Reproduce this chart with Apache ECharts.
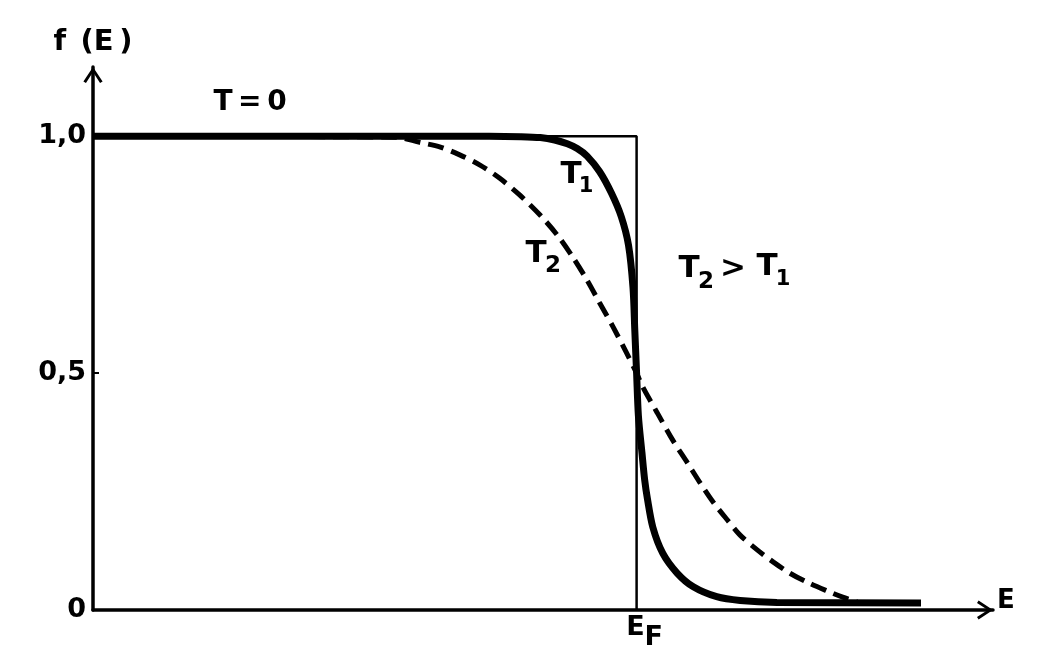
<!DOCTYPE html>
<html><head><meta charset="utf-8">
<script src="https://cdn.jsdelivr.net/npm/echarts@6/dist/echarts.min.js"></script>
<style>html,body{margin:0;padding:0;background:#fff}#c{width:1044px;height:660px}</style>
</head><body><div id="c"></div>
<script>
// ---- data (E in arbitrary units, f(E) occupation probability) ----
const EF = 60.4;
const yTickValues = [0, 0.5, 1];
const yTickLabels = ['0', '0,5', '1,0'];
const stepT0 = [[0, 1], [EF, 1], [EF, 0]];
const curveT1 = [[0, 1], [44, 1], [47.5, 0.999], [49.7, 0.997], [51.3, 0.992], [52.7, 0.984],
  [53.8, 0.974], [54.9, 0.958], [56.3, 0.925], [57.6, 0.88], [58.7, 0.83], [59.5, 0.77], [60.0, 0.68],
  [60.2, 0.59], [60.4, 0.5], [60.6, 0.41], [61.0, 0.331], [61.3, 0.274], [61.6, 0.235],
  [62.2, 0.175], [63.3, 0.12], [64.9, 0.078], [66.7, 0.049], [69.3, 0.028], [71.9, 0.02],
  [76, 0.016], [92, 0.015]];
const curveT2 = [[0, 1], [33.6, 0.998], [36.3, 0.987], [38.6, 0.977], [40.8, 0.96], [43, 0.939],
  [45.2, 0.911], [47.4, 0.876], [49.7, 0.833], [51.6, 0.791], [53.3, 0.745], [54.9, 0.696],
  [56.3, 0.648], [57.8, 0.597], [59.3, 0.542], [60.4, 0.5], [61.1, 0.47], [62.7, 0.416],
  [64.4, 0.359], [66, 0.312], [67.4, 0.27], [68.9, 0.228], [70.4, 0.192], [71.9, 0.158],
  [73.8, 0.127], [75.6, 0.101], [77.4, 0.078], [79.3, 0.059], [81.6, 0.04], [83.3, 0.027], [84.9, 0.017]];

const FONT = 'DejaVu Sans';
const INK = '#000';
const arrowPath = 'path://M6,0 L12,9 L10.4,10 L6,3.2 L1.6,10 L0,9 Z';

function txt(text, x, y, size) {
  return { type: 'text', x: x, y: y, z: 100,
    style: { text: text, fill: INK, font: 'bold ' + size + 'px "' + FONT + '"', textAlign: 'center', textVerticalAlign: 'middle' } };
}

const chart = echarts.init(document.getElementById('c'));
chart.setOption({
  animation: false,
  backgroundColor: '#fff',
  grid: { left: 93, right: 51, top: 67, bottom: 50, containLabel: false },
  xAxis: {
    type: 'value', min: 0, max: 100,
    name: 'E', nameLocation: 'end', nameGap: 4,
    nameTextStyle: { color: INK, fontFamily: FONT, fontWeight: 'bold', fontSize: 26, verticalAlign: 'bottom', lineHeight: 18 },
    axisLine: { onZero: false, lineStyle: { color: INK, width: 3.5 }, symbol: ['none', arrowPath], symbolSize: [20, 16], symbolOffset: [0, -8] },
    axisTick: { show: false },
    splitLine: { show: false },
    axisLabel: {
      customValues: [EF], margin: 4,
      formatter: function () { return '{s|}{e|E}{f|F}'; },
      rich: {
        s: { width: 16 },
        e: { color: INK, fontFamily: FONT, fontWeight: 'bold', fontSize: 27, padding: [0, 0, 10, 0] },
        f: { color: INK, fontFamily: FONT, fontWeight: 'bold', fontSize: 27, padding: [10, 0, 0, 0] }
      }
    }
  },
  yAxis: {
    type: 'value', min: 0, max: 1.146,
    name: 'f\u2002(E\u2009)', nameLocation: 'end', nameGap: 10,
    nameTextStyle: { color: INK, fontFamily: FONT, fontWeight: 'bold', fontSize: 29 },
    axisLine: { onZero: false, lineStyle: { color: INK, width: 3.5 }, symbol: ['none', arrowPath], symbolSize: [22, 16], symbolOffset: [0, -8] },
    axisTick: { show: true, inside: true, length: 6, lineStyle: { color: INK, width: 2 }, customValues: [0.5] },
    splitLine: { show: false },
    axisLabel: {
      customValues: yTickValues, margin: 7,
      color: INK, fontFamily: FONT, fontWeight: 'bold', fontSize: 27,
      formatter: function (v) { const i = yTickValues.indexOf(v); return i >= 0 ? yTickLabels[i] : ''; }
    }
  },
  series: [
    { name: 'T=0', type: 'line', data: stepT0, showSymbol: false, symbol: 'none', z: 2,
      lineStyle: { color: INK, width: 2.5 } },
    { name: 'T2', type: 'line', data: curveT2, showSymbol: false, symbol: 'none', smooth: 0.3, z: 3,
      lineStyle: { color: INK, width: 5, type: [16, 8] } },
    { name: 'T1', type: 'line', data: curveT1, showSymbol: false, symbol: 'none', smooth: 0.3, z: 4,
      lineStyle: { color: INK, width: 7 } }
  ],
  graphic: [
    txt('T\u2009=\u20090', 250, 103, 28),
    txt('T', 571, 175, 31), txt('1', 586, 187, 21),
    txt('T', 536, 254, 31), txt('2', 553, 266, 23),
    txt('T', 689, 269, 31), txt('2', 706, 282, 23),
    txt('>', 733, 269, 31),
    txt('T', 767, 267, 31), txt('1', 783, 280, 21)
  ]
});
</script>
</body></html>
